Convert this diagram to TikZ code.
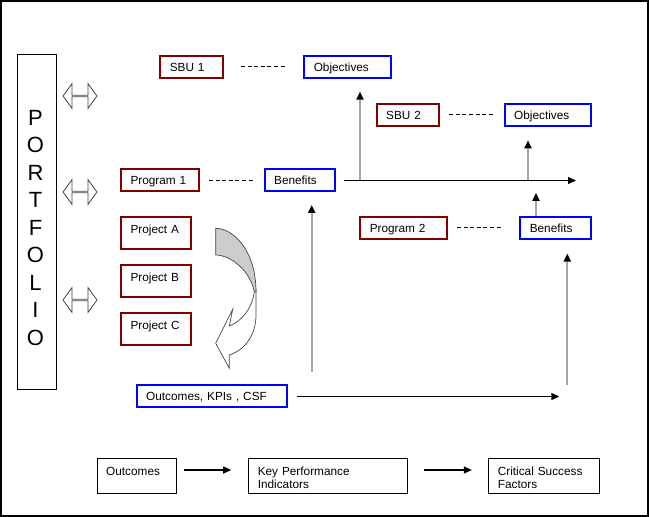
\documentclass[tikz,border=0pt]{standalone}
\usepackage{fontspec}
\setmainfont{Liberation Sans}
\definecolor{sbured}{RGB}{128,0,0}
\definecolor{objblue}{RGB}{0,0,255}
\definecolor{linegray}{RGB}{166,166,166}
\definecolor{foldgray}{RGB}{204,204,204}
\definecolor{edgegray}{RGB}{70,70,70}
\usetikzlibrary{arrows.meta, shapes.arrows}

\begin{document}
\begin{tikzpicture}[
    x=1pt, y=-1pt,
    cbox/.style={draw, line width=2pt, minimum height=22.5pt, inner xsep=9.5pt, inner ysep=0pt, align=left, text height=8.5pt, text depth=0pt, font=\fontsize{11.8}{13.7}\selectfont},
    redbox/.style={cbox, draw=sbured},
    bluebox/.style={cbox, draw=objblue},
    projbox/.style={redbox, inner ysep=8pt, text height=8.6pt, text depth=7.9pt},
    defbox/.style={draw, line width=1pt, inner xsep=9pt, inner ysep=7pt, align=left, text height=9.2pt, text depth=11.8pt, font=\fontsize{11.8}{13.7}\selectfont},
    arr/.style={-{Triangle[length=8pt, width=7pt]}, line width=1.2pt},
    garr/.style={-{Triangle[length=8pt, width=7pt, color=black]}, draw=linegray, line width=2pt},
    dline/.style={dash pattern=on 4pt off 2.6pt, line width=1pt},
    dblarr/.style={double arrow, draw=edgegray, fill=white, line width=0.8pt, minimum height=34pt, minimum width=25pt, double arrow head extend=6.3pt, double arrow tip angle=108, inner sep=0pt},
    fold/.style={draw=edgegray, line width=0.7pt}
]
    \useasboundingbox (0,0) rectangle (649,517);
    \draw[line width=1.5pt] (0.75,0.75) rectangle (648,516);

    \node[draw, line width=1pt, minimum width=39pt, minimum height=334.7pt, inner sep=0pt] (pf) at (36.7,222.2) {};
    \node[font=\fontsize{22}{27.5}\selectfont, align=center, inner sep=0pt] (pftxt) at (35.5,228) {P\\O\\R\\T\\F\\O\\L\\I\\O};

    \node[dblarr] (da1) at (80,96) {};
    \node[dblarr] (da2) at (80,192) {};
    \node[dblarr] (da3) at (80,300) {};

    \node[redbox, text width=44pt] (sbu1) at (191.8,66.8) {SBU 1};
    \node[bluebox, text width=68pt] (obj1) at (347.8,66.8) {Objectives};
    \node[redbox, text width=43.3pt] (sbu2) at (407.8,114.8) {SBU 2};
    \node[bluebox, text width=67.6pt] (obj2) at (548,114.8) {Objectives};
    \node[redbox, text width=59.3pt] (prog1) at (160.2,180) {Program 1};
    \node[bluebox, text width=51.3pt] (ben1) at (299.8,180) {Benefits};
    \node[redbox, text width=68pt] (prog2) at (403.8,227.8) {Program 2};
    \node[bluebox, text width=52pt] (ben2) at (555.8,227.8) {Benefits};

    \node[projbox, text width=51.3pt] (pa) at (156.2,232.8) {Project A};
    \node[projbox, text width=51.3pt] (pb) at (156.2,281) {Project B};
    \node[projbox, text width=51.3pt] (pc) at (156.2,329) {Project C};

    \node[bluebox, text width=131.6pt] (okc) at (212,396) {Outcomes, KPIs , CSF};

    \node[defbox, text width=61pt] (ob) at (136.7,476.3) {Outcomes};
    \node[defbox, text width=141pt] (kpi) at (328.3,476.3) {Key Performance\\Indicators};
    \node[defbox, text width=92.7pt] (csf) at (544.2,476.3) {Critical Success\\Factors};

    \draw[dline, shorten <=16.7pt, shorten >=18.3pt] (sbu1) -- (obj1);
    \draw[dline, shorten <=9.3pt, shorten >=10.7pt] (sbu2) -- (obj2);
    \draw[dline, shorten <=8.6pt, shorten >=10.6pt] (prog1) -- (ben1);
    \draw[dline, shorten <=8.7pt, shorten >=18.3pt] (prog2) -- (ben2);

    \coordinate (tlstart) at (344,180.5);
    \coordinate (tlend) at (576,180.5);
    \coordinate (up1) at (360,180.5);
    \coordinate (up2) at (528,180.5);
    \coordinate (b2up) at ([xshift=-19.8pt]ben2.north);
    \coordinate (k1) at (311.7,372);
    \coordinate (k2) at (567.3,385);
    \coordinate (k3) at (559.3,396.5);

    \draw[garr, shorten >=12.6pt] (up1) -- (up1 |- obj1.south);
    \draw[garr, shorten >=13.2pt] (up2) -- (up2 |- obj2.south);
    \draw[garr, shorten >=12.4pt] (b2up) -- (b2up |- tlend);
    \draw[garr, shorten >=13.5pt] (k2) -- (k2 |- ben2.south);
    \draw[garr, shorten >=12.7pt] (k1) -- (k1 |- ben1.south);
    \draw[arr] (tlstart) -- (tlend);
    \draw[arr] ([shift={(8.4pt,-0.5pt)}]okc.east) -- (k3);

    \draw[arr, shorten <=7.5pt, shorten >=17.1pt] ([yshift=6.3pt]ob.east) -- ([yshift=6.3pt]kpi.west);
    \draw[arr, shorten <=15.5pt, shorten >=16.5pt] ([yshift=6.3pt]kpi.east) -- ([yshift=6.3pt]csf.west);

    \draw[fold, fill=white] (254.3,291.7) .. controls (252,310) and (240,322) .. (229.3,326) -- (232.7,309.3) -- (215.7,343.3) -- (229.3,368.3) -- (229.3,355) .. controls (245,350) and (256,335) .. (256,315) -- (256,290) -- cycle;
    \draw[fold, fill=foldgray] (215.7,228.3) .. controls (233,228.3) and (256,250) .. (256,292) -- (254.3,291.7) .. controls (250,270) and (230,255) .. (215.7,255) -- cycle;
\end{tikzpicture}
\end{document}
